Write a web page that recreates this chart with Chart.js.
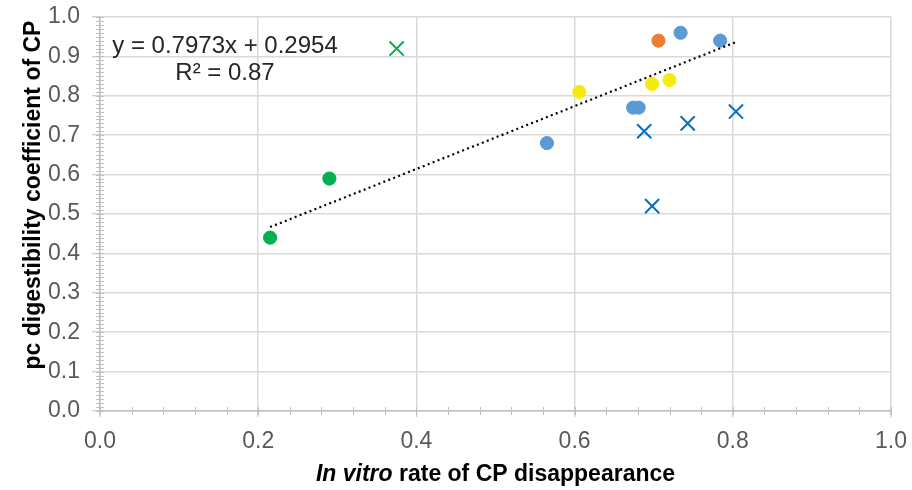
<!DOCTYPE html>
<html>
<head>
<meta charset="utf-8">
<script src="https://cdn.jsdelivr.net/npm/chart.js@4/dist/chart.umd.min.js"></script>
<style>
  html, body { margin: 0; padding: 0; background: #fff; }
  #wrap { width: 912px; height: 490px; }
</style>
</head>
<body>
<div id="wrap"><canvas id="digChart" width="912" height="490"></canvas></div>
<script>
// values
const greenDotX = [0.215, 0.290];
const greenDotY = [0.44, 0.59];
const greenCrossX = [0.375];
const greenCrossY = [0.92];
const blueDotX = [0.565, 0.674, 0.681, 0.734, 0.784];
const blueDotY = [0.68, 0.77, 0.77, 0.96, 0.94];
const orangeDotX = [0.706];
const orangeDotY = [0.94];
const yellowDotX = [0.606, 0.698, 0.720];
const yellowDotY = [0.81, 0.83, 0.84];
const blueCrossX = [0.688, 0.698, 0.743, 0.804];
const blueCrossY = [0.71, 0.52, 0.73, 0.76];

// linear trendline shown on the chart
const trendSlope = 0.7973;
const trendIntercept = 0.2954;
const trendRange = [0.215, 0.804];
const trendText = ['y = 0.7973x + 0.2954', 'R\u00B2 = 0.87'];

const xTickValues = [0.0, 0.2, 0.4, 0.6, 0.8, 1.0];
const yTickValues = [0.0, 0.1, 0.2, 0.3, 0.4, 0.5, 0.6, 0.7, 0.8, 0.9, 1.0];

const yTitle = 'pc digestibility coefficient of CP';

const FONT = '"Liberation Sans", Arial, sans-serif';

const toPoints = (xs, ys) => xs.map((x, i) => ({ x: x, y: ys[i] }));

function dotSet(xs, ys, color) {
   return {
      type: 'scatter',
      data: toPoints(xs, ys),
      pointStyle: 'circle',
      pointRadius: 6.6,
      backgroundColor: color,
      borderColor: color,
      borderWidth: 1,
      order: 1
   };
}

function crossSet(xs, ys, color) {
   return {
      type: 'scatter',
      data: toPoints(xs, ys),
      pointStyle: 'crossRot',
      pointRadius: 10,
      backgroundColor: color,
      borderColor: color,
      borderWidth: 2,
      order: 1
   };
}

// minor tick marks + equation + axis titles
const extras = {
   id: 'extras',
   afterDraw(chart) {
      const c = chart.ctx;
      const xs = chart.scales.x, ys = chart.scales.y;
      const area = chart.chartArea;
      c.save();
      c.strokeStyle = '#bfbfbf';
      c.lineWidth = 1;
      for (let i = 0; i <= 100; i++) {
         const py = Math.round(ys.getPixelForValue(i / 100)) + 0.5;
         c.beginPath();
         c.moveTo(area.left - 4, py);
         c.lineTo(area.left + 4, py);
         c.stroke();
      }
      for (let i = 0; i <= 25; i++) {
         const px = Math.round(xs.getPixelForValue(i * 0.04)) + 0.5;
         c.beginPath();
         c.moveTo(px, area.bottom - 4);
         c.lineTo(px, area.bottom + 4);
         c.stroke();
      }

      // trendline label
      c.fillStyle = '#262626';
      c.font = '24px ' + FONT;
      c.textAlign = 'center';
      c.textBaseline = 'alphabetic';
      c.fillText(trendText[0], 225, 53);
      c.fillText(trendText[1], 225, 80);

      // y axis title
      c.fillStyle = '#000';
      c.font = 'bold 23px ' + FONT;
      c.save();
      c.translate(40, 195);
      c.rotate(-Math.PI / 2);
      c.fillText(yTitle, 0, 0);
      c.restore();

      // x axis title with italic "In vitro"
      const partA = 'In vitro';
      const partB = ' rate of CP disappearance';
      c.font = 'italic bold 23px ' + FONT;
      const wA = c.measureText(partA).width;
      c.font = 'bold 23px ' + FONT;
      const wB = c.measureText(partB).width;
      const mid = (area.left + area.right) / 2;
      let x0 = mid - (wA + wB) / 2;
      c.textAlign = 'left';
      c.font = 'italic bold 23px ' + FONT;
      c.fillText(partA, x0, 481);
      c.font = 'bold 23px ' + FONT;
      c.fillText(partB, x0 + wA, 481);
      c.restore();
   }
};

const ctx = document.getElementById('digChart').getContext('2d');
new Chart(ctx, {
   data: {
      datasets: [
         {
            type: 'line',
            data: trendRange.map(x => ({ x: x, y: trendSlope * x + trendIntercept })),
            borderColor: '#000',
            borderWidth: 2.2,
            borderDash: [2, 3.3],
            pointRadius: 0,
            fill: false,
            order: 0
         },
         dotSet(greenDotX, greenDotY, '#00b050'),
         crossSet(greenCrossX, greenCrossY, '#00b050'),
         dotSet(blueDotX, blueDotY, '#5b9bd5'),
         dotSet(orangeDotX, orangeDotY, '#ed7d31'),
         dotSet(yellowDotX, yellowDotY, '#f5ec0f'),
         crossSet(blueCrossX, blueCrossY, '#0070c0')
      ]
   },
   options: {
      responsive: false,
      animation: false,
      layout: { padding: { top: 17, right: 21, left: 0, bottom: 0 } },
      plugins: {
         legend: { display: false },
         tooltip: { enabled: false }
      },
      scales: {
         x: {
            type: 'linear',
            min: 0,
            max: 1,
            afterFit: s => { s.height = 79; s.paddingLeft = 0; s.paddingRight = 0; },
            afterBuildTicks: s => { s.ticks = xTickValues.map(v => ({ value: v })); },
            ticks: {
               color: '#595959',
               font: { family: FONT, size: 23 },
               padding: 11,
               callback: v => Number(v).toFixed(1)
            },
            grid: { color: '#d9d9d9', lineWidth: 1.5, tickLength: 6, tickColor: '#bfbfbf', tickWidth: 1 },
            border: { color: '#bfbfbf', width: 1.5 }
         },
         y: {
            type: 'linear',
            min: 0,
            max: 1,
            afterFit: s => { s.width = 100; s.paddingTop = 0; s.paddingBottom = 0; },
            afterBuildTicks: s => { s.ticks = yTickValues.map(v => ({ value: v })); },
            ticks: {
               color: '#595959',
               font: { family: FONT, size: 23 },
               padding: 12,
               callback: v => Number(v).toFixed(1)
            },
            grid: { color: '#d9d9d9', lineWidth: 1.5, tickLength: 8, tickColor: '#bfbfbf', tickWidth: 1 },
            border: { color: '#bfbfbf', width: 1.5 }
         }
      }
   },
   plugins: [extras]
});
</script>
</body>
</html>
